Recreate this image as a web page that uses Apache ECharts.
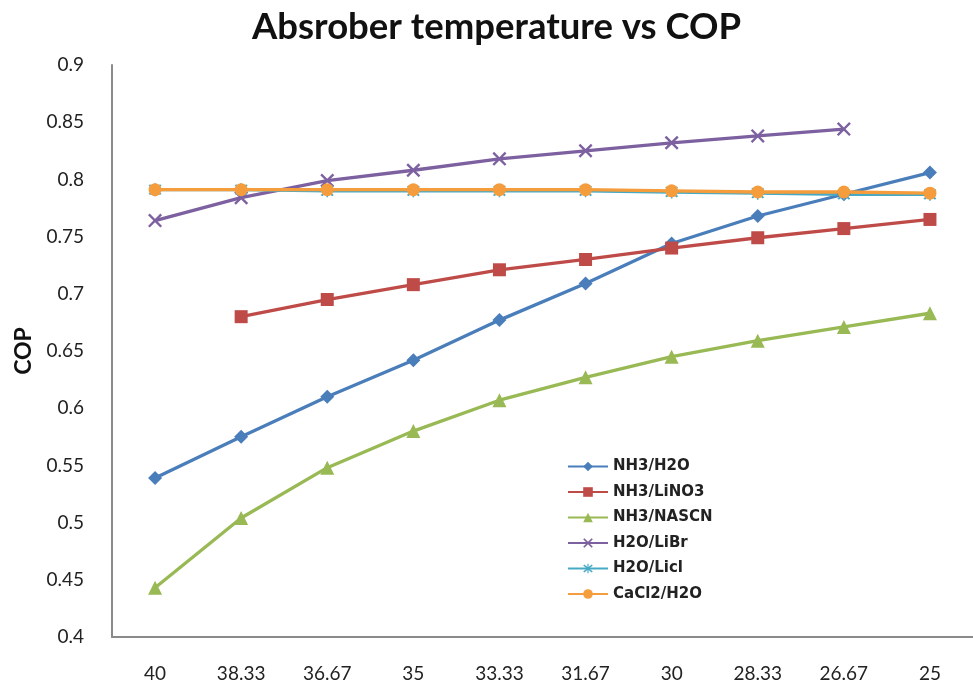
<!DOCTYPE html>
<html>
<head>
<meta charset="utf-8">
<script src="https://cdn.jsdelivr.net/npm/echarts@6/dist/echarts.min.js"></script>
<style>
  html, body { margin: 0; padding: 0; background: #ffffff; }
  #chart { width: 973px; height: 686px; }
</style>
</head>
<body>
<div id="chart"></div>
<script>
// Absorber temperature (°C) on the category axis
const temperatures = ['40', '38.33', '36.67', '35', '33.33', '31.67', '30', '28.33', '26.67', '25'];

// COP of each working pair at each absorber temperature
const nh3H2o   = [0.539, 0.575, 0.610, 0.642, 0.677, 0.709, 0.744, 0.768, 0.787, 0.806];
const nh3Lino3 = [null, 0.680, 0.695, 0.708, 0.721, 0.730, 0.740, 0.749, 0.757, 0.765];
const nh3Nascn = [0.443, 0.504, 0.548, 0.580, 0.607, 0.627, 0.645, 0.659, 0.671, 0.683];
const h2oLibr  = [0.764, 0.784, 0.799, 0.808, 0.818, 0.825, 0.832, 0.838, 0.844, null];
const h2oLicl  = [0.791, 0.791, 0.790, 0.790, 0.790, 0.790, 0.789, 0.788, 0.787, 0.787];
const cacl2H2o = [0.791, 0.791, 0.791, 0.791, 0.791, 0.791, 0.790, 0.789, 0.789, 0.788];

const yTicks = { min: 0.4, max: 0.9, step: 0.05 };

const crossPath = 'path://M0,1.2 L1.2,0 L5,3.8 L8.8,0 L10,1.2 L6.2,5 L10,8.8 L8.8,10 L5,6.2 L1.2,10 L0,8.8 L3.8,5 Z';
const starPath = 'path://M0,1.2 L1.2,0 L5,3.8 L8.8,0 L10,1.2 L6.2,5 L10,8.8 L8.8,10 L5,6.2 L1.2,10 L0,8.8 L3.8,5 Z M4.4,-1 L5.6,-1 L5.6,11 L4.4,11 Z';

function makeSeries(name, data, color, symbol, size) {
  return {
    name: name,
    type: 'line',
    data: data,
    symbol: symbol,
    symbolSize: size,
    connectNulls: false,
    lineStyle: { color: color, width: 3.3 },
    itemStyle: { color: color },
    emphasis: { disabled: true }
  };
}

const chart = echarts.init(document.getElementById('chart'), null, { renderer: 'canvas' });

chart.setOption({
  animation: false,
  backgroundColor: '#ffffff',
  title: {
    text: 'Absrober temperature vs COP',
    left: 247,
    top: 4,
    textStyle: { fontFamily: 'Lato', fontWeight: 'bold', fontSize: 36.5, color: '#111111' }
  },
  legend: {
    orient: 'vertical',
    left: 562,
    top: 454,
    itemWidth: 40,
    itemHeight: 12,
    itemGap: 10.5,
    textStyle: { fontFamily: 'DejaVu Sans', fontWeight: 'bold', fontSize: 15, color: '#222222' },
    data: ['NH3/H2O', 'NH3/LiNO3', 'NH3/NASCN', 'H2O/LiBr', 'H2O/Licl', 'CaCl2/H2O']
  },
  grid: { left: 112, right: -9, top: 65, bottom: 49, containLabel: false },
  xAxis: {
    type: 'category',
    data: temperatures,
    boundaryGap: true,
    axisLine: { show: true, lineStyle: { color: '#8a8a8a', width: 2 } },
    axisTick: { show: false },
    axisLabel: { margin: 27, fontFamily: 'Lato', fontSize: 19, color: '#222222' },
    splitLine: { show: false }
  },
  yAxis: {
    type: 'value',
    min: yTicks.min,
    max: yTicks.max,
    interval: yTicks.step,
    name: 'COP',
    nameLocation: 'middle',
    nameGap: 76,
    nameRotate: 90,
    nameTextStyle: { fontFamily: 'Lato', fontWeight: 'bold', fontSize: 23, color: '#111111' },
    axisLine: { show: true, lineStyle: { color: '#8a8a8a', width: 2 } },
    axisTick: { show: false },
    axisLabel: {
      margin: 28,
      fontFamily: 'Lato',
      fontSize: 19,
      color: '#222222',
      formatter: function (v) { return String(parseFloat(v.toFixed(2))); }
    },
    splitLine: { show: false }
  },
  series: [
    makeSeries('NH3/H2O', nh3H2o, '#4a7ebb', 'diamond', 14),
    makeSeries('NH3/LiNO3', nh3Lino3, '#be4b48', 'rect', 13),
    makeSeries('NH3/NASCN', nh3Nascn, '#98b954', 'triangle', 14),
    makeSeries('H2O/LiBr', h2oLibr, '#7d60a0', crossPath, 14),
    makeSeries('H2O/Licl', h2oLicl, '#46aac5', starPath, 13),
    makeSeries('CaCl2/H2O', cacl2H2o, '#f59d3d', 'circle', 13)
  ]
});
</script>
</body>
</html>
